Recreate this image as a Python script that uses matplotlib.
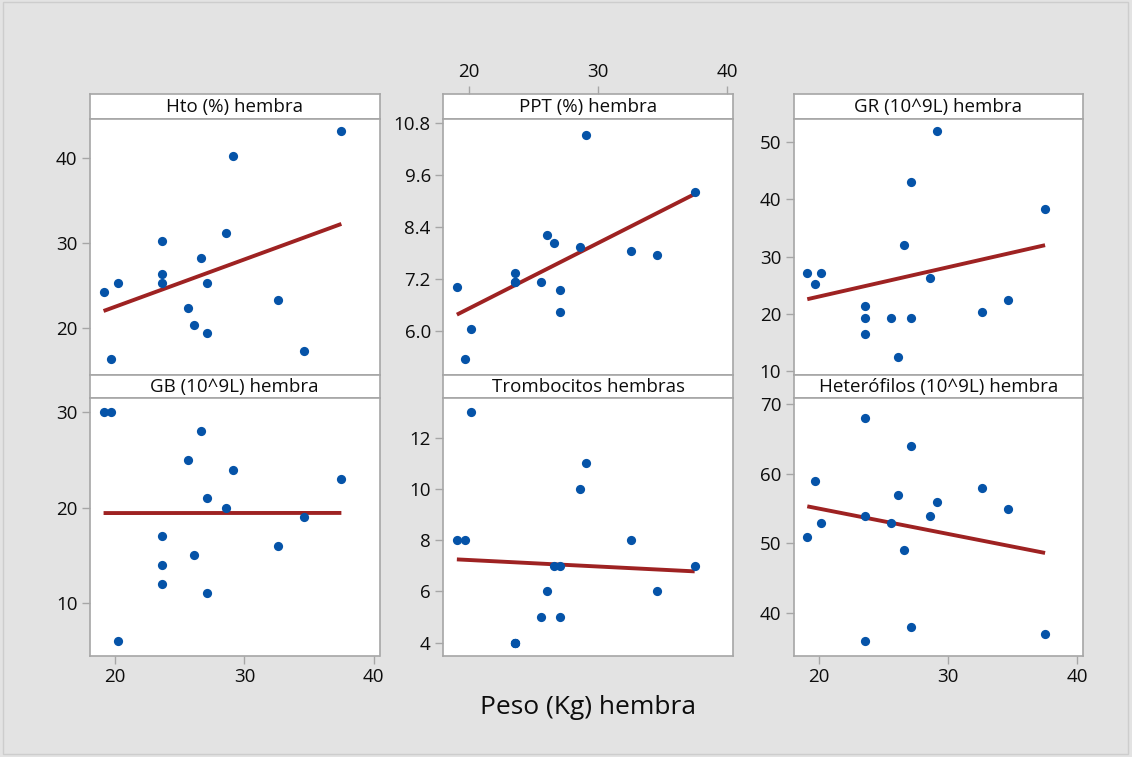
import matplotlib

matplotlib.use("Agg")
import matplotlib.pyplot as plt
import numpy as np
from matplotlib.patches import Rectangle

plt.rcParams["font.family"] = ["Open Sans", "DejaVu Sans"]

# Body weight of each female (kg), shared by every panel
peso = [19.1, 19.7, 20.2, 23.6, 23.6, 23.6, 25.6, 26.1, 26.6, 27.1, 27.1,
        28.6, 29.1, 32.6, 34.6, 37.5]

hto = [24.2, 16.3, 25.3, 30.2, 26.3, 25.3, 22.3, 20.3, 28.2, 25.3, 19.4,
       31.2, 40.2, 23.3, 17.3, 43.2]
ppt = [7.02, 5.35, 6.03, 7.34, 7.12, 7.12, 7.12, 8.21, 8.02, 6.93, 6.44,
       7.93, 10.52, 7.85, 7.75, 9.2]
gr = [27.2, 25.2, 27.2, 21.4, 19.3, 16.5, 19.3, 12.4, 32.0, 43.1, 19.3,
      26.2, 52.0, 20.3, 22.4, 38.3]
gb = [30, 30, 6, 17, 14, 12, 25, 15, 28, 21, 11, 20, 24, 16, 19, 23]
tromb = [8, 8, 13, 4, 4, 4, 5, 6, 7, 7, 5, 10, 11, 8, 6, 7]
het = [51, 59, 53, 68, 54, 36, 53, 57, 49, 64, 38, 54, 56, 58, 55, 37]

titles = ["Hto (%) hembra", "PPT (%) hembra", "GR (10^9L) hembra",
          "GB (10^9L) hembra", "Trombocitos hembras", "Heterófilos (10^9L) hembra"]
series = [hto, ppt, gr, gb, tromb, het]
yticks = [[20, 30, 40], [6.0, 7.2, 8.4, 9.6, 10.8], [10, 20, 30, 40, 50],
          [10, 20, 30], [4, 6, 8, 10, 12], [40, 50, 60, 70]]
ylims = [(14.47, 44.62), (4.98, 10.89), (9.3, 54.13),
         (4.49, 31.47), (3.5, 13.54), (33.9, 70.86)]
xticks = [20, 30, 40]
xlim = (18.05, 40.45)

W, H = 1132, 757
BG = "#e3e3e3"
EDGE = "#a6a6a6"
BLUE = "#0553a8"
RED = "#9e2222"
INK = "#0d0d0d"
TICK_FS = 13.5

fig = plt.figure(figsize=(W / 100, H / 100), dpi=100, facecolor=BG)
fig.patches.append(Rectangle((3 / W, 3 / H), 1125 / W, 752 / H,
                             transform=fig.transFigure, fill=False,
                             edgecolor="#cdcdcd", lw=1))

col_left = [90, 443.3, 793.7]
col_w = 289.5
rows = [(93.7, 118.7, 375.0), (375.0, 398.3, 655.5)]  # strip top, plot top, plot bottom


def fax(x0, y0, x1, y1):
    # pixel box (top-left origin) -> figure axes
    return fig.add_axes([x0 / W, 1 - y1 / H, (x1 - x0) / W, (y1 - y0) / H])


for i, (title, ys) in enumerate(zip(titles, series)):
    r, c = divmod(i, 3)
    st, pt, pb = rows[r]
    x0 = col_left[c]

    strip = fax(x0, st, x0 + col_w, pt)
    strip.set_xticks([])
    strip.set_yticks([])
    strip.set_facecolor("white")
    for s in strip.spines.values():
        s.set_color(EDGE)
        s.set_linewidth(1.2)
    strip.text(0.5, 0.47, title, ha="center", va="center", fontsize=13.5,
               color=INK, transform=strip.transAxes)

    ax = fax(x0, pt, x0 + col_w, pb)
    ax.set_facecolor("white")
    for s in ax.spines.values():
        s.set_color(EDGE)
        s.set_linewidth(1.2)
    ax.scatter(peso, ys, s=44, color=BLUE, zorder=3, linewidths=0)

    # least-squares fit line over the observed weight range
    b1, b0 = np.polyfit(peso, ys, 1)
    xx = np.array([min(peso), max(peso)])
    ax.plot(xx, b0 + b1 * xx, color=RED, lw=2.8, solid_capstyle="butt", zorder=2)

    ax.set_xlim(*xlim)
    ax.set_ylim(*ylims[i])
    ax.set_yticks(yticks[i])
    if i == 1:
        ax.set_yticklabels([f"{v:.1f}" for v in yticks[i]])
    ax.tick_params(axis="both", length=6, width=1, color=EDGE,
                   labelsize=TICK_FS, labelcolor=INK, pad=3)

    ax.set_xticks(xticks)
    if i in (3, 5):
        ax.xaxis.set_ticks_position("bottom")
    elif i == 1:
        # ticks sit above the strip, so put them on the strip's top edge
        ax.set_xticks([])
        strip.set_xlim(*xlim)
        strip.set_xticks(xticks)
        strip.xaxis.set_ticks_position("top")
        strip.tick_params(axis="x", length=6, width=1, color=EDGE,
                          labelsize=TICK_FS, labelcolor=INK, pad=3)
    else:
        ax.set_xticks([])

fig.text(588 / W, 1 - 708 / H, "Peso (Kg) hembra", ha="center", va="center",
         fontsize=19, color=INK)

fig.savefig("out.png", dpi=100, facecolor=BG)
